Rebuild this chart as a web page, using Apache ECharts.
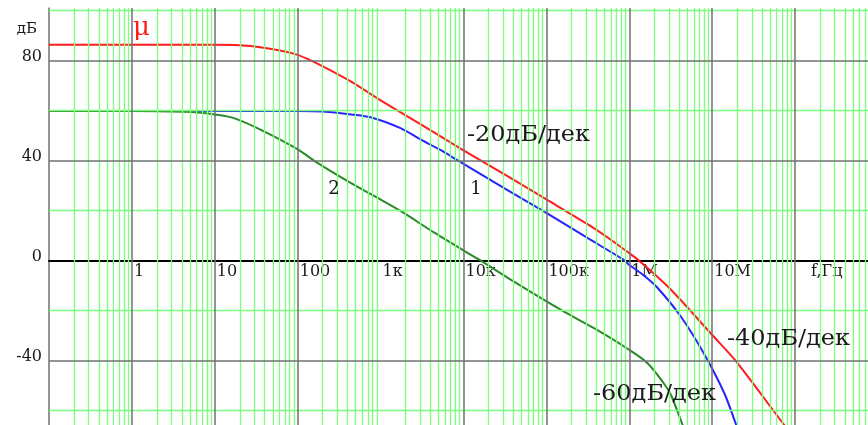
<!DOCTYPE html>
<html>
<head>
<meta charset="utf-8">
<script src="https://cdn.jsdelivr.net/npm/echarts@6/dist/echarts.min.js"></script>
<style>
  html, body { margin: 0; padding: 0; background: #fff; }
  #chart { width: 868px; height: 425px; }
</style>
</head>
<body>
<div id="chart"></div>
<script>
// Magnitude responses: frequency in Hz, gain in dB

// μ — open-loop gain
const freqMu = [0.1, 1, 10, 27, 63, 100, 175, 440, 1000, 3200, 10000, 32000, 1e5, 3.2e5, 5.8e5, 1e6, 1.3e6, 3.2e6, 1e7, 1.9e7, 7.4e7, 1e8];
const gainMu = [86.3, 86.3, 86.3, 85.8, 83.9, 82.2, 78.6, 71.5, 64.0, 54.0, 44.0, 34.2, 24.4, 14.3, 8.6, 2.9, 0, -11.8, -29.8, -40, -65.8, -71];

// curve 1
const freq1 = [0.1, 10, 100, 200, 440, 830, 1740, 3100, 5400, 8500, 32000, 89000, 3.2e5, 8.3e5, 1e6, 1.5e6, 2.2e6, 4.2e6, 7.9e6, 1.4e7, 1.95e7, 2.5e7];
const gain1 = [59.8, 59.8, 59.8, 59.6, 58.4, 56.9, 52.9, 48.2, 44.0, 40.0, 28.6, 20.0, 8.8, 0.5, -1.8, -6.0, -11.0, -22.5, -37.1, -53.1, -65.8, -75];

// curve 2
const freq2 = [0.1, 1, 4.3, 6.8, 10, 17, 36, 100, 175, 440, 910, 1740, 4500, 12300, 16000, 41000, 1.5e5, 3.8e5, 9.5e5, 1.66e6, 2.6e6, 3.2e6, 4.4e6, 5.6e6];
const gain2 = [59.8, 59.8, 59.5, 59.1, 58.4, 56.9, 52.2, 44.4, 38.9, 30.9, 25.1, 19.8, 11.0, 2.2, 0, -8.6, -19.8, -27.2, -35.3, -41.1, -49.1, -54.0, -65.8, -74];

// axis ticks
const xTickValues = [1, 10, 100, 1e3, 1e4, 1e5, 1e6, 1e7, 1e8];
const xTickLabels = ['1', '10', '100', '1к', '10к', '100к', '1M', '10M', 'f,Гц'];
const yTickValues = [-40, 0, 40, 80];
const yTickLabels = ['-40', '0', '40', '80'];

// grid lines
const majorFreqLines = [1, 10, 100, 1e4, 1e5, 1e6, 1e7, 1e8];
const minorDecades = [0.1, 1, 10, 100, 1e3, 1e4, 1e5, 1e6, 1e7, 1e8];
const minorSteps = [2, 3, 4, 5, 6, 7, 8, 9];
const majorGainLines = [-40, 40, 80];
const minorGainLines = [-60, -20, 20, 60, 100];

const X_MIN = 0.1, X_MAX = 7.57e8, Y_MIN = -65.8, Y_MAX = 100.96;
const GRID_TOP = 8, GRID_BOTTOM = 0, CHART_H = 425;
// distance of the 0 dB level above the bottom of the plot, so the frequency axis sits on it
const plotH = CHART_H - GRID_TOP - GRID_BOTTOM;
const zeroLift = (0 - Y_MIN) / (Y_MAX - Y_MIN) * plotH;

const SERIF = '"DejaVu Serif", "Liberation Serif", serif';
const GREEN_GRID = '#7dff7d';
const DARK_GRID = '#707070';

const pairs = (xs, ys) => xs.map((x, i) => [x, ys[i]]);

const gridMarks = [];
minorDecades.forEach(d => minorSteps.forEach(m => {
  const v = d * m;
  if (v < X_MAX) gridMarks.push({ xAxis: v, lineStyle: { color: GREEN_GRID, width: 1.3, type: 'solid' } });
}));
minorGainLines.forEach(v => gridMarks.push({ yAxis: v, lineStyle: { color: GREEN_GRID, width: 1.3, type: 'solid' } }));
majorFreqLines.forEach(v => gridMarks.push({ xAxis: v, lineStyle: { color: DARK_GRID, width: 1.5, type: 'solid' } }));
majorGainLines.forEach(v => gridMarks.push({ yAxis: v, lineStyle: { color: DARK_GRID, width: 1.5, type: 'solid' } }));

function xLabel(v) {
  const p = Math.log10(v);
  const r = Math.round(p);
  if (Math.abs(p - r) > 1e-6) return '';
  const i = xTickValues.findIndex(t => Math.round(Math.log10(t)) === r);
  if (i < 0) return '';
  return i === xTickValues.length - 1 ? '{f|' + xTickLabels[i] + '}' : xTickLabels[i];
}
function yLabel(v) {
  const i = yTickValues.indexOf(Math.round(v));
  return i < 0 ? '' : yTickLabels[i];
}

const curve = (name, xs, ys, color) => ({
  name, type: 'line', data: pairs(xs, ys), showSymbol: false,
  smooth: 0.3, z: 4, silent: true,
  lineStyle: { color, width: 2 }
});

const note = (x, y, text, size, color, align, sx) => ({
  type: 'text', x, y, scaleX: sx || 1, z: 10,
  style: { text, fill: color, font: size + 'px ' + SERIF, align, verticalAlign: 'middle' }
});

const chart = echarts.init(document.getElementById('chart'), null, { renderer: 'canvas' });
chart.setOption({
  animation: false,
  grid: { left: 49, right: 0, top: GRID_TOP, bottom: GRID_BOTTOM, containLabel: false, outerBoundsMode: 'none' },
  xAxis: {
    type: 'log', logBase: 10, min: X_MIN, max: X_MAX, interval: 1, z: 3,
    position: 'bottom', offset: -zeroLift,
    axisLine: { show: true, onZero: false, lineStyle: { color: '#000', width: 2 } },
    axisTick: { show: false },
    splitLine: { show: false },
    minorSplitLine: { show: false },
    axisLabel: {
      show: true, formatter: xLabel, align: 'left', margin: 3,
      padding: [0, 0, 0, 2],
      color: '#1a1a1a', fontFamily: SERIF, fontSize: 16,
      showMinLabel: true, showMaxLabel: true, hideOverlap: false,
      rich: { f: { fontFamily: SERIF, fontSize: 16, color: '#1a1a1a', padding: [0, 0, 0, 14] } }
    }
  },
  yAxis: {
    type: 'value', min: Y_MIN, max: Y_MAX, interval: 20, z: 3,
    axisLine: { show: true, onZero: false, lineStyle: { color: DARK_GRID, width: 1.5 } },
    axisTick: { show: false },
    splitLine: { show: false },
    axisLabel: {
      show: true, formatter: yLabel, margin: 7,
      verticalAlign: 'bottom', lineHeight: 8,
      color: '#1a1a1a', fontFamily: SERIF, fontSize: 16,
      customValues: yTickValues
    }
  },
  series: [
    {
      name: 'grid', type: 'line', data: [], silent: true, z: 1,
      markLine: { silent: true, symbol: ['none', 'none'], label: { show: false }, animation: false, data: gridMarks }
    },
    curve('μ', freqMu, gainMu, '#ff1c1c'),
    curve('1', freq1, gain1, '#2424ff'),
    curve('2', freq2, gain2, '#2a8a2a')
  ],
  graphic: [
    note(27, 29, 'дБ', 15, '#1a1a1a', 'center'),
    note(133, 28, 'μ', 26, '#ff1c1c', 'left'),
    note(467, 135, '-20дБ/дек', 22, '#1a1a1a', 'left', 1.09),
    note(476, 189, '1', 18, '#1a1a1a', 'center'),
    note(334, 189, '2', 18, '#1a1a1a', 'center'),
    note(727, 339, '-40дБ/дек', 22, '#1a1a1a', 'left', 1.09),
    note(593, 394, '-60дБ/дек', 22, '#1a1a1a', 'left', 1.09)
  ]
});
</script>
</body>
</html>
